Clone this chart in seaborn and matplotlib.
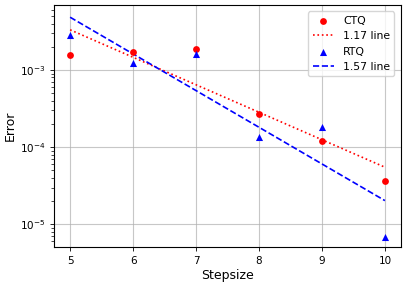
import numpy as np
import pandas as pd
import seaborn as sns
import matplotlib
matplotlib.use('Agg')
import matplotlib.pyplot as plt

# values
stepsize = [5, 6, 7, 8, 9, 10]
ctq_error = [1.57e-3, 1.71e-3, 1.89e-3, 2.71e-4, 1.21e-4, 3.65e-5]
rtq_error = [2.85e-3, 1.22e-3, 1.60e-3, 1.34e-4, 1.84e-4, 6.86e-6]
ctq_label = '1.17 line'
rtq_label = '1.57 line'

sns.set_style("ticks", {'text.color': 'black', 'axes.labelcolor': 'black',
                        'xtick.color': 'black', 'ytick.color': 'black',
                        'axes.edgecolor': 'black'})
plt.rcParams['font.family'] = ['DejaVu Sans']

df = pd.DataFrame({'Stepsize': stepsize, 'CTQ': ctq_error, 'RTQ': rtq_error})


def fit_line(x, y):
    # least squares fit in log space
    p = np.polyfit(x, np.log10(y), 1)
    return 10 ** np.polyval(p, np.asarray(x, dtype=float))


df['CTQ_fit'] = fit_line(df['Stepsize'], df['CTQ'])
df['RTQ_fit'] = fit_line(df['Stepsize'], df['RTQ'])

fig = plt.figure(figsize=(4.07, 2.87), dpi=100)
ax = fig.add_axes([0.133, 0.139, 0.852, 0.844])

sns.scatterplot(data=df, x='Stepsize', y='CTQ', ax=ax, color='red', marker='o',
                s=24, linewidth=0, label='CTQ', zorder=3)
sns.lineplot(data=df, x='Stepsize', y='CTQ_fit', ax=ax, color='red', linestyle=':',
             linewidth=1.2, label=ctq_label)
sns.scatterplot(data=df, x='Stepsize', y='RTQ', ax=ax, color='blue', marker='^',
                s=26, linewidth=0, label='RTQ', zorder=3)
sns.lineplot(data=df, x='Stepsize', y='RTQ_fit', ax=ax, color='blue', linestyle='--',
             linewidth=1.2, label=rtq_label)

ax.set_yscale('log')
ax.set_xlim(4.746, 10.254)
ax.set_ylim(5.07e-6, 6.98e-3)
ax.grid(True, which='major', color='#b0b0b0', linewidth=0.8, alpha=0.7)
ax.set_axisbelow(True)
ax.set_xlabel('Stepsize', fontsize=9, labelpad=2)
ax.set_ylabel('Error', fontsize=9, labelpad=2)
ax.tick_params(labelsize=7.5, length=3, width=0.6)
ax.tick_params(which='minor', length=2, width=0.5)
for sp in ax.spines.values():
    sp.set_linewidth(0.8)

ax.legend(loc='upper right', fontsize=7.8, frameon=True, framealpha=0.8,
          edgecolor='#cccccc', fancybox=True, borderaxespad=0.6)

fig.savefig('out.png', dpi=100)
